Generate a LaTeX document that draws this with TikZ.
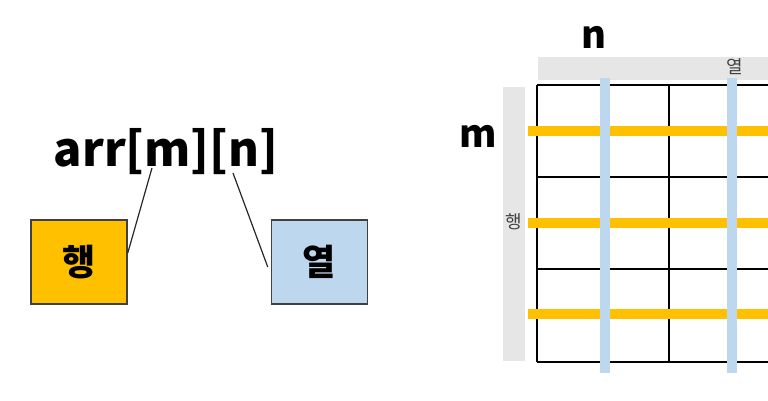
\documentclass[tikz,border=0pt]{standalone}
\usepackage{fontspec}
\setmainfont{Noto Sans CJK KR}
\usetikzlibrary{positioning}
\definecolor{mxyellow}{RGB}{255,192,0}
\definecolor{mxblue}{RGB}{189,215,238}
\definecolor{mxgray}{RGB}{230,230,230}
\definecolor{mxdark}{RGB}{64,64,64}
\tikzstyle{cellbox} = [rectangle, minimum width=96pt, minimum height=84pt, text centered, draw=mxdark, line width=1.5pt, font=\bfseries\fontsize{36}{40}\selectfont]
\tikzstyle{link} = [line width=1.2pt, color=black!85]
\tikzstyle{gridline} = [line width=1.8pt]
\tikzstyle{rowband} = [line width=10pt, color=mxyellow]
\tikzstyle{colband} = [line width=10pt, color=mxblue]
\tikzstyle{bandtag} = [inner sep=0pt, text=black!75, font=\fontsize{18}{20}\selectfont]

\begin{document}
\begin{tikzpicture}[x=1pt, y=-1pt, node distance=143pt]
\useasboundingbox (0,0) rectangle (768,400);
\clip (0,0) rectangle (768,400);

% left: index notation
\node (arr) [anchor=base, font=\bfseries\fontsize{47}{52}\selectfont] at (166,166) {arr[m][n]};
\node (row) [cellbox, fill=mxyellow] at (79,262) {행};
\node (col) [cellbox, fill=mxblue, right=of row] {열};
\coordinate (mfoot) at (152,168);
\coordinate (nfoot) at (233,173);
\draw[link] (mfoot) -- ([yshift=9pt]row.east);
\draw[link] (nfoot) -- ([xshift=-3pt,yshift=-5pt]col.west);

% right: the table
\fill[mxgray] (538,57) rectangle (780,80);
\fill[mxgray] (503,87) rectangle (525,361);
\node (coltag) [bandtag] at (735,67) {열};
\node (rowtag) [bandtag] at (514,222) {행};
\foreach \y in {85,177,269,362}
  \draw[gridline] (537,\y) -- (780,\y);
\foreach \x in {537,669}
  \draw[gridline] (\x,85) -- (\x,362);
\foreach \y in {131,223,314}
  \draw[rowband] (528,\y) -- (780,\y);
\foreach \x in {605,732}
  \draw[colband] (\x,78) -- (\x,373);
\node (ncount) [font=\bfseries\fontsize{38}{40}\selectfont] at (594,37) {n};
\node (mcount) [font=\bfseries\fontsize{38}{40}\selectfont] at (478,136) {m};
\end{tikzpicture}
\end{document}
